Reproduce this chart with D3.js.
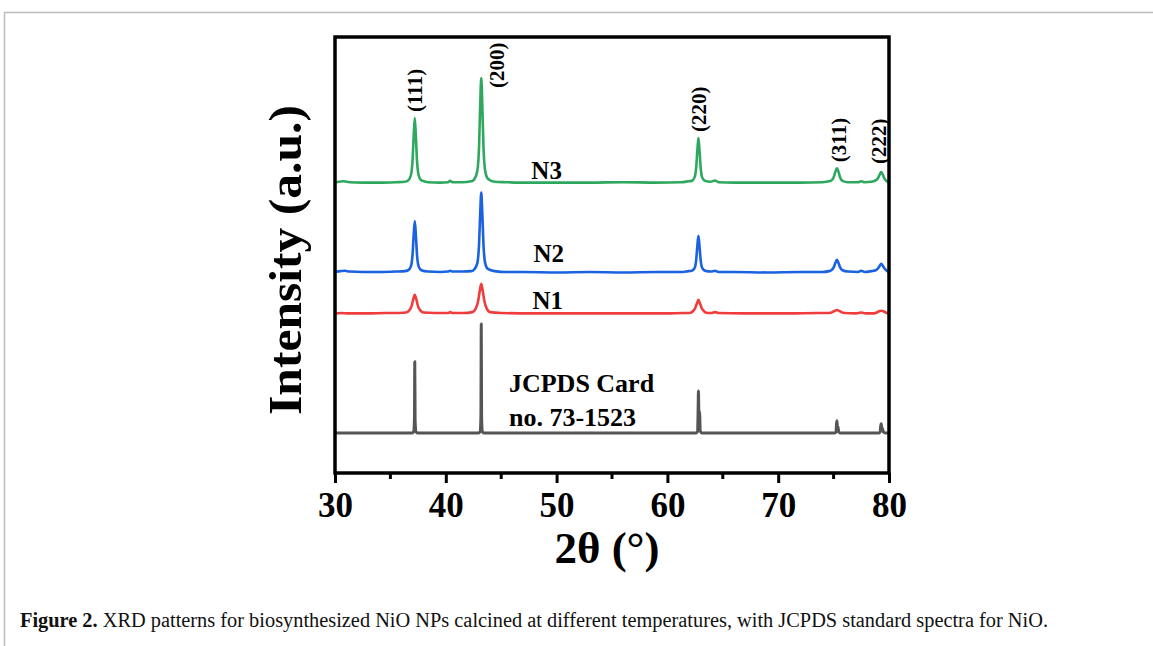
<!doctype html>
<html>
  <head>
    <script src="https://cdnjs.cloudflare.com/ajax/libs/d3/7.8.5/d3.min.js"></script>
    <style>
      body { margin: 0; background: #fff; }
      svg { display: block; }
      .serif { font-family: "Liberation Serif", "Times New Roman", serif; }
    </style>
  </head>
  <body>
    <svg id="chart" width="1153" height="646"></svg>
    <script>
      // series names and the vertical offset each one is stacked at (a.u.)
      var seriesNames = ["JCPDS", "N1", "N2", "N3"];
      var seriesOffsets = [92, 365, 460, 665];
      var seriesColors = ["#555555", "#f03c3c", "#1a62df", "#2ea85f"];

      // JCPDS card 73-1523 stick pattern (2θ, intensity)
      var jcpds = [
        [30, 0], [36.95, 0], [37.1, 3], [37.17, 30], [37.2, 163], [37.23, 30], [37.3, 3], [37.45, 0],
        [42.95, 0], [43.1, 3], [43.17, 40], [43.2, 250], [43.23, 40], [43.3, 3], [43.45, 0],
        [62.6, 0], [62.72, 3], [62.77, 50], [62.8, 96], [62.84, 50], [62.88, 48], [62.92, 40], [62.96, 4], [63.1, 0],
        [75.1, 0], [75.22, 2], [75.26, 20], [75.3, 28], [75.34, 15], [75.38, 14], [75.42, 10], [75.47, 2], [75.6, 0],
        [79.1, 0], [79.2, 2], [79.25, 16], [79.3, 21], [79.34, 12], [79.38, 11], [79.43, 8], [79.5, 2], [79.65, 0],
        [80, 0]
      ];

      var n1 = [
        [30, 1], [30.6, 2], [31.2, 1], [33, 1], [34.5, 2], [35.8, 2],
        [36.4, 3], [36.7, 8], [36.9, 17], [37.05, 32], [37.2, 44], [37.35, 32], [37.5, 17], [37.7, 8], [38.0, 3],
        [39, 2], [40.2, 2], [40.4, 4], [40.6, 2], [41.6, 2],
        [42.4, 4], [42.7, 12], [42.9, 27], [43.05, 50], [43.2, 69], [43.35, 50], [43.5, 27], [43.7, 12], [44.0, 4],
        [45, 2], [48, 1], [52, 1], [56, 1], [60, 1], [61.4, 2],
        [62.0, 2], [62.3, 6], [62.5, 13], [62.65, 23], [62.8, 32], [62.95, 23], [63.1, 13], [63.3, 6], [63.6, 2],
        [64.0, 2], [64.3, 4], [64.6, 2], [67, 1], [71, 1], [73.5, 2],
        [74.6, 2], [74.9, 4], [75.1, 7], [75.3, 9], [75.5, 7], [75.7, 4], [76.0, 2],
        [77, 1], [77.5, 3], [77.9, 1],
        [78.6, 1], [78.9, 3], [79.1, 6], [79.3, 7], [79.5, 6], [79.7, 3], [80, 1]
      ];

      var n2 = [
        [30, 1], [30.5, 3], [30.9, 4], [31.3, 2], [32.5, 1], [34, 1], [35.5, 2], [36.3, 3],
        [36.6, 5], [36.85, 14], [37.0, 41], [37.1, 85], [37.2, 118], [37.3, 85], [37.4, 41], [37.55, 14], [37.8, 5],
        [38.4, 2], [39.5, 1], [40.2, 2], [40.4, 4], [40.6, 2], [41.5, 2], [42.3, 3],
        [42.6, 8], [42.85, 22], [43.0, 64], [43.1, 132], [43.2, 183], [43.3, 132], [43.4, 64], [43.55, 22], [43.8, 8],
        [44.4, 3], [45.5, 1], [47, 1], [50, 0], [53, 1], [56, 0], [59, 1], [61.2, 1], [61.9, 3],
        [62.2, 4], [62.45, 10], [62.6, 29], [62.7, 60], [62.8, 84], [62.9, 60], [63.0, 29], [63.15, 10], [63.4, 4],
        [63.9, 2], [64.3, 4], [64.6, 1], [66, 1], [69, 0], [72, 1], [74, 1], [74.6, 3],
        [74.8, 5], [75.0, 11], [75.15, 21], [75.3, 29], [75.45, 21], [75.6, 11], [75.8, 5], [76.3, 2],
        [77.2, 1], [77.5, 4], [77.8, 1], [78.4, 3],
        [78.8, 5], [79.0, 9], [79.15, 15], [79.3, 20], [79.45, 15], [79.6, 9], [79.8, 4], [80, 1]
      ];

      var n3 = [
        [30, 2], [30.4, 3], [30.8, 4], [31.3, 2], [32.5, 1], [34, 1], [35.5, 2], [36.3, 3],
        [36.6, 6], [36.85, 18], [37.0, 52], [37.1, 107], [37.2, 149], [37.3, 107], [37.4, 52], [37.55, 18], [37.8, 6],
        [38.4, 2], [39.5, 1], [40.2, 2], [40.4, 5], [40.6, 2], [41.5, 2], [42.3, 4],
        [42.6, 10], [42.85, 29], [43.0, 84], [43.1, 174], [43.2, 241], [43.3, 174], [43.4, 84], [43.55, 29], [43.8, 10],
        [44.4, 3], [45.5, 2], [47, 1], [50, 1], [53, 1], [56, 2], [59, 1], [61.2, 2], [61.9, 4],
        [62.2, 5], [62.45, 13], [62.6, 36], [62.7, 74], [62.8, 103], [62.9, 74], [63.0, 36], [63.15, 12], [63.4, 5],
        [63.9, 3], [64.3, 6], [64.6, 2], [66, 1], [69, 1], [72, 1], [74, 2], [74.6, 4],
        [74.8, 6], [75.0, 13], [75.15, 25], [75.3, 34], [75.45, 25], [75.6, 12], [75.8, 5], [76.3, 2],
        [77.2, 2], [77.5, 4], [77.8, 2], [78.4, 3],
        [78.8, 6], [79.0, 11], [79.15, 19], [79.3, 25], [79.45, 19], [79.6, 10], [79.8, 4], [80, 2]
      ];

      var seriesData = [jcpds, n1, n2, n3];

      // series text labels: [2θ, a.u.] of the text baseline
      var seriesLabels = ["N1", "N2", "N3"];
      var seriesLabelPos = [[49.2, 376], [49.3, 484], [49.1, 674]];
      var cardLines = ["JCPDS Card", "no. 73-1523"];
      var cardPos = [[45.7, 186], [45.7, 108]];

      // Miller indices: [2θ, a.u.] of the lower end of the rotated text
      var hklLabels = ["(111)", "(200)", "(220)", "(311)", "(222)"];
      var hklPos = [[37.22, 828], [44.6, 883], [62.85, 782], [75.5, 713], [79.1, 709]];

      var xMajor = [30, 40, 50, 60, 70, 80];
      var xMinor = [35, 45, 55, 65, 75];

      var margin = {left: 335, top: 37, width: 554, height: 436};

      var svg = d3.select("#chart");

      // light frame of the figure page
      svg.append("path")
        .attr("d", "M4.5,646V12.5H1153")
        .attr("fill", "none")
        .attr("stroke", "#bdbdbd")
        .attr("stroke-width", 1.5);

      var x = d3.scaleLinear().domain([30, 80]).range([margin.left, margin.left + margin.width]);
      var y = d3.scaleLinear().domain([0, 1000]).range([margin.top + margin.height, margin.top]);

      var line = d3.line()
        .x(d => x(d[0]))
        .y(d => y(d[1]))
        .curve(d3.curveMonotoneX);

      var plot = svg.append("g");

      plot.selectAll("path.series")
        .data(seriesData)
        .enter()
        .append("path")
          .attr("class", "series")
          .attr("fill", "none")
          .attr("stroke", (d, i) => seriesColors[i])
          .attr("stroke-width", (d, i) => i === 0 ? 3 : 2.6)
          .attr("stroke-linejoin", "round")
          .attr("d", (d, i) => line(d.map(p => [p[0], p[1] + seriesOffsets[i]])));

      // frame
      svg.append("rect")
        .attr("x", margin.left)
        .attr("y", margin.top)
        .attr("width", margin.width)
        .attr("height", margin.height)
        .attr("fill", "none")
        .attr("stroke", "#000")
        .attr("stroke-width", 3.5);

      // bottom axis
      var axis = svg.append("g")
        .attr("transform", `translate(0,${margin.top + margin.height})`)
        .call(d3.axisBottom(x).tickValues(xMajor).tickSize(10).tickFormat(d3.format("d")));
      axis.select(".domain").remove();
      axis.selectAll(".tick line").attr("stroke", "#000").attr("stroke-width", 3);
      axis.selectAll(".tick text")
        .attr("y", 44)
        .attr("dy", null)
        .attr("fill", "#000")
        .style("font-family", "'Liberation Serif', 'Times New Roman', serif")
        .style("font-size", "35px")
        .style("font-weight", "bold");

      svg.append("g")
        .selectAll("line")
        .data(xMinor)
        .enter()
        .append("line")
          .attr("x1", d => x(d))
          .attr("x2", d => x(d))
          .attr("y1", margin.top + margin.height)
          .attr("y2", margin.top + margin.height + 6)
          .attr("stroke", "#000")
          .attr("stroke-width", 3);

      // axis titles
      svg.append("text")
        .attr("class", "serif")
        .attr("x", 607)
        .attr("y", 563)
        .attr("text-anchor", "middle")
        .style("font-size", "45px")
        .style("font-weight", "bold")
        .text("2θ (°)");

      svg.append("text")
        .attr("class", "serif")
        .attr("transform", "translate(301,260) rotate(-90)")
        .attr("text-anchor", "middle")
        .attr("textLength", 310)
        .attr("lengthAdjust", "spacingAndGlyphs")
        .style("font-size", "47px")
        .style("font-weight", "bold")
        .text("Intensity (a.u.)");

      // series labels
      svg.selectAll("text.slabel")
        .data(seriesLabels)
        .enter()
        .append("text")
          .attr("class", "serif slabel")
          .attr("x", (d, i) => x(seriesLabelPos[i][0]))
          .attr("y", (d, i) => y(seriesLabelPos[i][1]))
          .attr("text-anchor", "middle")
          .style("font-size", "25px")
          .style("font-weight", "bold")
          .text(d => d);

      svg.selectAll("text.card")
        .data(cardLines)
        .enter()
        .append("text")
          .attr("class", "serif card")
          .attr("x", (d, i) => x(cardPos[i][0]))
          .attr("y", (d, i) => y(cardPos[i][1]))
          .style("font-size", "26px")
          .style("font-weight", "bold")
          .text(d => d);

      svg.selectAll("text.hkl")
        .data(hklLabels)
        .enter()
        .append("text")
          .attr("class", "serif hkl")
          .attr("transform", (d, i) => `translate(${x(hklPos[i][0])},${y(hklPos[i][1])}) rotate(-90)`)
          .attr("dy", "0.35em")
          .attr("text-anchor", "start")
          .style("font-size", "21px")
          .style("font-weight", "bold")
          .text(d => d);

      // caption
      var cap = svg.append("text")
        .attr("x", 20)
        .attr("y", 627)
        .attr("textLength", 1028)
        .attr("lengthAdjust", "spacingAndGlyphs")
        .style("font-family", "'Liberation Serif', 'Times New Roman', serif")
        .style("font-size", "20px")
        .attr("fill", "#111");
      cap.append("tspan").style("font-weight", "bold").text("Figure 2. ");
      cap.append("tspan").text("XRD patterns for biosynthesized NiO NPs calcined at different temperatures, with JCPDS standard spectra for NiO.");
    </script>
  </body>
</html>
